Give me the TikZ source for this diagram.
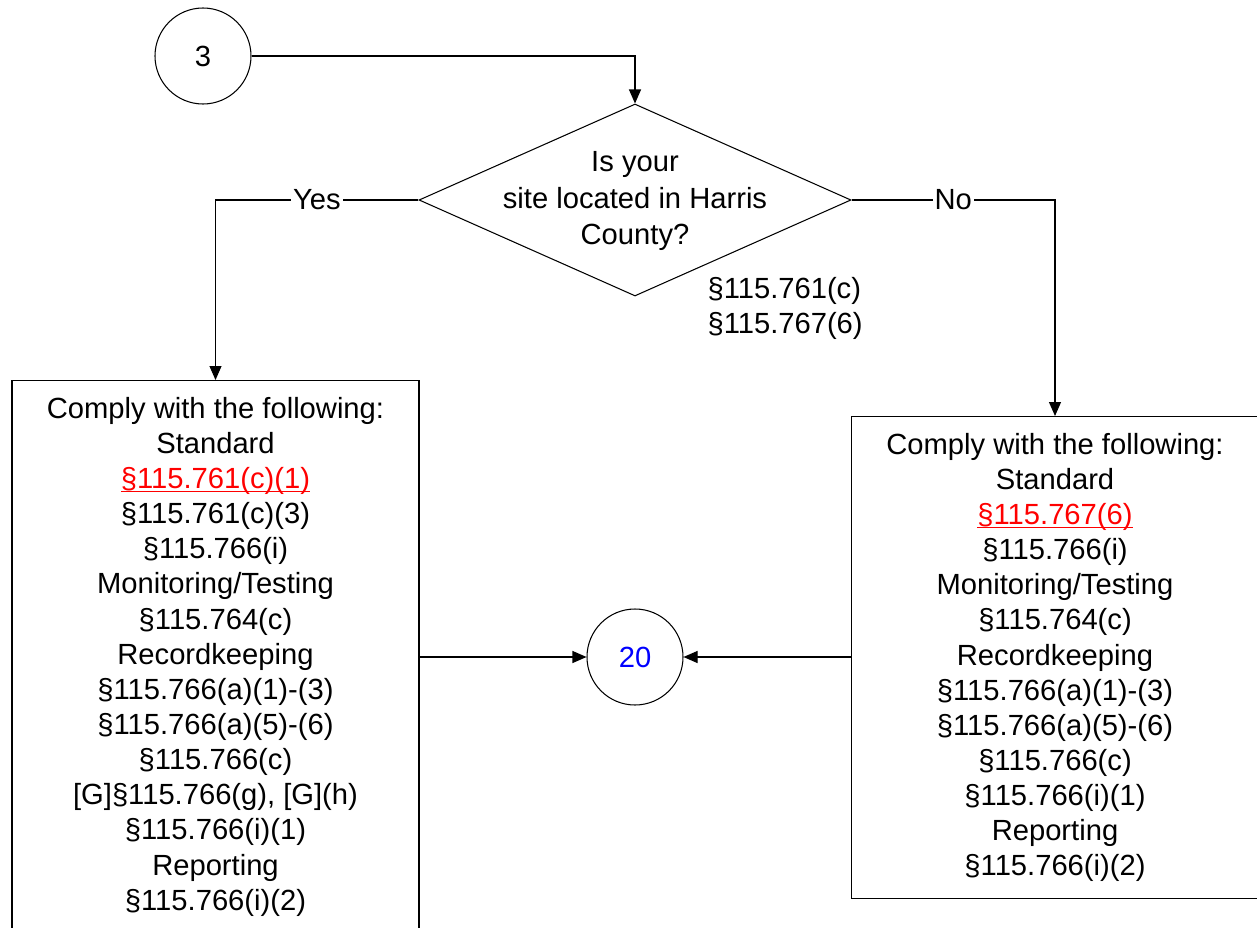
\documentclass[tikz,border=0pt]{standalone}
\usepackage{fontspec}
\setmainfont{Liberation Sans}
\usetikzlibrary{arrows.meta,shapes.geometric}
\definecolor{refred}{RGB}{255,0,0}
\definecolor{refblue}{RGB}{0,0,255}
\newsavebox{\reflinebox}
\newcommand{\refline}[1]{\textcolor{refred}{\sbox{\reflinebox}{#1}\rlap{\rule[-2.2pt]{\wd\reflinebox}{1pt}}\usebox{\reflinebox}}}
\begin{document}
\begin{tikzpicture}[line width=0.6pt, font=\fontsize{16.6}{20}\selectfont,
    conn/.style={-{Triangle[length=0.28cm,width=0.24cm]}},
    pageref/.style={circle, draw, minimum size=1.92cm, inner sep=0pt},
    decision/.style={diamond, draw, minimum width=8.64cm, minimum height=3.84cm, inner sep=0pt},
    listbox/.style={rectangle, draw, anchor=north, align=center, minimum width=8.14cm, inner xsep=0pt, inner ysep=0.33cm},
    branch/.style={fill=white, inner sep=1pt}]
  \useasboundingbox (0, 0) rectangle (25.14, -18.56);
  \clip (0, 0) rectangle (25.14, -18.56);
  \node[pageref] (c3) at (4.06, -1.12) {3};
  \node[decision] (q) at (12.7, -4.0) {};
  \node[align=center, font=\fontsize{16.6}{20.8}\selectfont] (qtext) at (12.7, -4.02) {Is your\\site located in Harris\\County?};
  \node[anchor=north west, align=left, inner sep=0pt] (qref) at (14.14, -5.54) {§115.761(c)\\§115.767(6)};
  \node[listbox] (lbox) at (4.31, -7.6) {Comply with the following:\\Standard\\\refline{§115.761(c)(1)}\\§115.761(c)(3)\\§115.766(i)\\Monitoring/Testing\\§115.764(c)\\Recordkeeping\\§115.766(a)(1)-(3)\\§115.766(a)(5)-(6)\\§115.766(c)\\{[G]}§115.766(g), [G](h)\\§115.766(i)(1)\\Reporting\\§115.766(i)(2)};
  \node[listbox] (rbox) at (21.1, -8.32) {Comply with the following:\\Standard\\\refline{§115.767(6)}\\§115.766(i)\\Monitoring/Testing\\§115.764(c)\\Recordkeeping\\§115.766(a)(1)-(3)\\§115.766(a)(5)-(6)\\§115.766(c)\\§115.766(i)(1)\\Reporting\\§115.766(i)(2)};
  \node[pageref, text=refblue] (c20) at (12.7, -13.14) {20};
  % connectors
  \draw[conn] (c3) -| (q.north);
  \draw[conn] (q.west) -- node[branch] (yes) {Yes} (lbox.north |- q.west) -- (lbox.north);
  \draw[conn] (q.east) -- node[branch] (no) {No} (rbox.north |- q.east) -- (rbox.north);
  \draw[conn] (c20 -| lbox.east) -- (c20.west);
  \draw[conn] (c20 -| rbox.west) -- (c20.east);
\end{tikzpicture}
\end{document}
